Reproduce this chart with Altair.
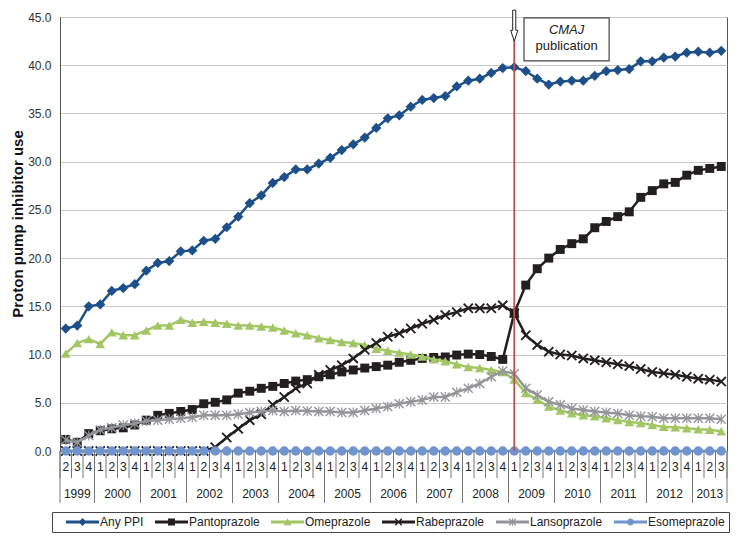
import altair as alt
import pandas as pd

# ---------------- data ----------------
year_list = list(range(1999, 2014))
first_quarter_1999 = 2
last_quarter_2013 = 3

series_names = ["Any PPI", "Pantoprazole", "Omeprazole", "Rabeprazole",
                "Lansoprazole", "Esomeprazole"]

any_ppi = [12.7, 13.0, 15.0, 15.2, 16.6, 16.9, 17.3, 18.7, 19.5, 19.7,
           20.7, 20.8, 21.8, 22.0, 23.2, 24.3, 25.7, 26.5, 27.8, 28.4,
           29.2, 29.2, 29.8, 30.4, 31.2, 31.8, 32.5, 33.5, 34.5, 34.8,
           35.7, 36.4, 36.6, 36.8, 37.8, 38.4, 38.6, 39.2, 39.7, 39.8,
           39.4, 38.6, 38.0, 38.3, 38.4, 38.4, 38.9, 39.4, 39.5, 39.6,
           40.4, 40.4, 40.8, 40.9, 41.3, 41.4, 41.3, 41.5]
pantoprazole = [1.2, 0.9, 1.8, 2.1, 2.3, 2.4, 2.7, 3.2, 3.7, 3.9,
                4.1, 4.3, 4.9, 5.05, 5.3, 6.0, 6.2, 6.5, 6.7, 7.0,
                7.25, 7.4, 7.7, 7.9, 8.2, 8.4, 8.6, 8.75, 8.9, 9.2,
                9.4, 9.6, 9.7, 9.75, 9.95, 10.05, 10.0, 9.8, 9.5, 14.3,
                17.2, 18.9, 20.0, 20.9, 21.5, 22.0, 23.15, 23.8, 24.3, 24.8,
                26.3, 27.0, 27.7, 27.85, 28.6, 29.1, 29.3, 29.5]
omeprazole = [10.1, 11.2, 11.6, 11.1, 12.3, 12.0, 12.0, 12.5, 13.0, 13.0,
              13.6, 13.3, 13.4, 13.3, 13.2, 13.0, 13.0, 12.9, 12.8, 12.5,
              12.2, 12.0, 11.7, 11.5, 11.3, 11.2, 11.0, 10.6, 10.4, 10.2,
              10.0, 9.8, 9.5, 9.3, 9.0, 8.7, 8.6, 8.4, 8.2, 7.4,
              6.0, 5.3, 4.6, 4.2, 3.9, 3.7, 3.6, 3.4, 3.2, 3.0,
              2.9, 2.7, 2.5, 2.45, 2.35, 2.25, 2.2, 2.05]
rabeprazole = [0.0, 0.0, 0.0, 0.0, 0.0, 0.0, 0.0, 0.0, 0.0, 0.0,
               0.0, 0.0, 0.0, 0.4, 1.4, 2.3, 3.2, 3.8, 4.8, 5.6,
               6.5, 7.0, 7.9, 8.4, 8.9, 9.6, 10.5, 11.2, 11.85, 12.2,
               12.7, 13.2, 13.6, 14.1, 14.4, 14.8, 14.8, 14.8, 15.1, 14.3,
               12.0, 11.0, 10.3, 10.0, 9.9, 9.6, 9.4, 9.2, 9.0, 8.8,
               8.5, 8.2, 8.05, 7.9, 7.7, 7.5, 7.4, 7.2]
lansoprazole = [1.15, 0.9, 1.6, 2.2, 2.4, 2.7, 2.85, 3.1, 3.2, 3.3,
                3.4, 3.5, 3.7, 3.7, 3.7, 3.8, 4.0, 4.1, 4.2, 4.1,
                4.2, 4.15, 4.1, 4.1, 4.0, 4.0, 4.2, 4.4, 4.6, 4.9,
                5.1, 5.3, 5.6, 5.6, 6.1, 6.5, 7.0, 7.7, 8.3, 8.0,
                6.5, 5.8, 5.1, 4.8, 4.4, 4.25, 4.1, 4.0, 3.9, 3.7,
                3.6, 3.55, 3.4, 3.4, 3.4, 3.4, 3.4, 3.3]
esomeprazole = [0.0] * 58

series_values = [any_ppi, pantoprazole, omeprazole, rabeprazole,
                 lansoprazole, esomeprazole]

# CMAJ publication: 2009 Q1
event_year = 2009
event_quarter = 1
event_label_1 = "CMAJ"
event_label_2 = "publication"

# ---------------- build tables ----------------
periods = []
for y in year_list:
    for q in range(1, 5):
        if y == year_list[0] and q < first_quarter_1999:
            continue
        if y == year_list[-1] and q > last_quarter_2013:
            continue
        periods.append((y, q))
n = len(periods)

rows = []
for name, vals in zip(series_names, series_values):
    for i, v in enumerate(vals):
        rows.append({"idx": i, "series": name, "value": v})
df = pd.DataFrame(rows)

qdf = pd.DataFrame({"idx": list(range(n)), "q": [str(q) for _, q in periods]})
year_centers = []
for y in year_list:
    ids = [i for i, (yy, _) in enumerate(periods) if yy == y]
    year_centers.append({"c": sum(ids) / len(ids), "year": str(y)})
ydf = pd.DataFrame(year_centers)
qsep = pd.DataFrame({"b": [i - 0.5 for i in range(n + 1)]})
ysep_vals = [-0.5] + [i + 0.5 for i in range(n - 1) if periods[i][0] != periods[i + 1][0]] + [n - 0.5]
ysep = pd.DataFrame({"b": ysep_vals})

event_idx = periods.index((event_year, event_quarter))
ev = pd.DataFrame({"idx": [event_idx], "y0": [0.0], "y1": [42.6], "ya": [44.1]})
box = pd.DataFrame({"x1": [event_idx + 0.85], "x2": [event_idx + 8.25],
                    "y1": [40.45], "y2": [44.9]})
box_t1 = pd.DataFrame({"x": [event_idx + 4.55], "y": [43.65], "t": [event_label_1]})
box_t2 = pd.DataFrame({"x": [event_idx + 4.55], "y": [42.0], "t": [event_label_2]})

# ---------------- styles ----------------
colors = ["#1d4f8a", "#231f20", "#a3c664", "#231f20", "#939598", "#7094cf"]
X_path = "M-1,-0.75L-0.75,-1L1,0.75L0.75,1Z M-1,0.75L0.75,-1L1,-0.75L-0.75,1Z"
AST_path = ("M-1,-0.8L-0.8,-1L1,0.8L0.8,1Z M-1,0.8L0.8,-1L1,-0.8L-0.8,1Z "
            "M-0.12,-1H0.12V1H-0.12Z")
shapes = ["diamond", "square", "triangle-up", X_path, AST_path, "circle"]
sizes = [105, 80, 95, 110, 100, 88]

LINE = "M-3.3,-0.3H3.3V0.3H-3.3Z "
legend_paths = [
    LINE + "M0,-0.8L0.8,0L0,0.8L-0.8,0Z",
    LINE + "M-0.7,-0.7H0.7V0.7H-0.7Z",
    LINE + "M0,-0.75L0.8,0.65H-0.8Z",
    LINE + "M-0.75,-0.55L-0.55,-0.75L0.75,0.55L0.55,0.75Z M-0.75,0.55L0.55,-0.75L0.75,-0.55L-0.55,0.75Z",
    LINE + "M-0.75,-0.55L-0.55,-0.75L0.75,0.55L0.55,0.75Z M-0.75,0.55L0.55,-0.75L0.75,-0.55L-0.55,0.75Z M-0.1,-0.75H0.1V0.75H-0.1Z",
    LINE + "M0.7,0A0.7,0.7,0,1,1,-0.7,0A0.7,0.7,0,1,1,0.7,0Z",
]

W, H = 667, 434
FONT = "Liberation Sans"

xenc = alt.X("idx:Q", scale=alt.Scale(domain=[-0.5, n - 0.5], nice=False, zero=False), axis=None)
yaxis = alt.Axis(values=list(range(0, 50, 5)), format=".1f", ticks=False, labelPadding=9,
                 labelFontSize=12, labelColor="#333", gridColor="#c8c8c8", gridWidth=1,
                 domainColor="#555", title="Proton pump inhibitor use",
                 titleFontSize=15, titleFontWeight="bold", titleColor="#111",
                 titleX=-35, titleY=206.5, titleBaseline="bottom")
yenc = alt.Y("value:Q", scale=alt.Scale(domain=[0, 45], nice=False), axis=yaxis)

layers = []
for name, c, shp, sz in zip(series_names, colors, shapes, sizes):
    base = alt.Chart(df).transform_filter(alt.datum.series == name)
    layers.append(base.mark_line(color=c, strokeWidth=2.5).encode(x=xenc, y=yenc))
    layers.append(base.mark_point(shape=shp, size=sz, filled=True, color=c, opacity=1,
                                  strokeWidth=0).encode(x=xenc, y=yenc))

legend = alt.Legend(orient="none", legendX=-8, legendY=495, direction="horizontal",
                    columns=6, title=None, symbolSize=100, symbolStrokeWidth=0,
                    symbolOffset=20.5, labelOffset=11.5, columnPadding=1,
                    labelFontSize=12, labelFont=FONT, labelColor="#222",
                    strokeColor="#444", fillColor="white", padding=4)
legend_layer = alt.Chart(df).transform_filter("false").mark_point(
    filled=True, opacity=1).encode(
    x=xenc, y=yenc,
    color=alt.Color("series:N", scale=alt.Scale(domain=series_names, range=colors), legend=legend),
    shape=alt.Shape("series:N", scale=alt.Scale(domain=series_names, range=legend_paths), legend=legend),
)

rule = alt.Chart(ev).mark_rule(color="#c0504d", strokeWidth=1.8).encode(
    x=alt.X("idx:Q"), y=alt.Y("y0:Q"), y2="y1:Q")
arrow = alt.Chart(ev).mark_point(
    shape="M-0.1,-1L0.1,-1L0.1,0.3L0.23,0.3L0,1L-0.23,0.3L-0.1,0.3Z",
    size=961, filled=True, fill="white", stroke="#222", strokeWidth=1, opacity=1
).encode(x=alt.X("idx:Q"), y=alt.Y("ya:Q"))
boxm = alt.Chart(box).mark_rect(fill="white", stroke="#444", strokeWidth=1.2).encode(
    x="x1:Q", x2="x2:Q", y="y1:Q", y2="y2:Q")
boxt1 = alt.Chart(box_t1).mark_text(fontSize=13, color="#222", baseline="middle",
                                    font=FONT, fontStyle="italic").encode(
    x="x:Q", y="y:Q", text="t:N")
boxt2 = alt.Chart(box_t2).mark_text(fontSize=13, color="#222", baseline="middle",
                                    font=FONT).encode(
    x="x:Q", y="y:Q", text="t:N")

qtext = alt.Chart(qdf).mark_text(fontSize=12, color="#222", baseline="middle", font=FONT).encode(
    x="idx:Q", y=alt.value(H + 16), text="q:N")
ytext = alt.Chart(ydf).mark_text(fontSize=12, color="#222", baseline="middle", font=FONT).encode(
    x="c:Q", y=alt.value(H + 43), text="year:N")
qrule = alt.Chart(qsep).mark_rule(color="#777", strokeWidth=1).encode(
    x="b:Q", y=alt.value(H), y2=alt.value(H + 27))
yrule = alt.Chart(ysep).mark_rule(color="#777", strokeWidth=1).encode(
    x="b:Q", y=alt.value(H), y2=alt.value(H + 52))

chart = alt.layer(*layers, legend_layer, qrule, yrule, qtext, ytext, rule, boxm, boxt1, boxt2,
                  arrow).properties(
    width=W, height=H,
    autosize=alt.AutoSizeParams(type="none"),
    padding={"left": 52, "top": 9, "right": 11, "bottom": 90},
).configure(font=FONT).configure_view(stroke="#555", strokeWidth=1)

chart.save("out.html", embed_options={"renderer": "svg", "actions": False})
